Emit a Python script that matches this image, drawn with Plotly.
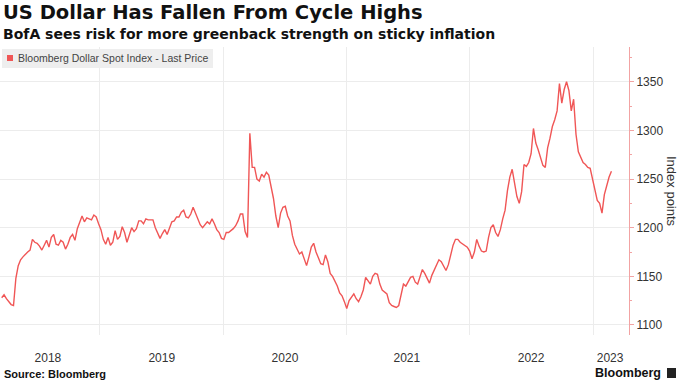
import pandas as pd
import plotly.graph_objects as go

# Weekly readings of the Bloomberg Dollar Spot Index
start_date = "2018-03-16"
values = [
    1128, 1131, 1127, 1124, 1121, 1120, 1148, 1161, 1167, 1170,
    1173, 1175, 1177, 1188, 1185, 1184, 1181, 1177, 1182, 1187,
    1180, 1190, 1193, 1183, 1182, 1187, 1185, 1178, 1183, 1190,
    1193, 1187, 1199, 1205, 1212, 1206, 1210, 1209, 1208, 1213,
    1211, 1204, 1198, 1188, 1183, 1190, 1182, 1185, 1197, 1188,
    1191, 1201, 1195, 1185, 1192, 1200, 1196, 1199, 1207, 1207,
    1204, 1209, 1208, 1208, 1208, 1200, 1194, 1189, 1194, 1198,
    1193, 1199, 1206, 1207, 1211, 1211, 1216, 1218, 1211, 1210,
    1214, 1221, 1215, 1210, 1203, 1200, 1203, 1206, 1204, 1209,
    1204, 1198, 1195, 1189, 1188, 1195, 1195, 1197, 1199, 1202,
    1207, 1214, 1214, 1196, 1190, 1297, 1262, 1262, 1250, 1248,
    1255, 1252, 1257, 1254, 1243, 1230, 1212, 1200, 1215, 1221,
    1222, 1212, 1207, 1192, 1183, 1177, 1173, 1175, 1169, 1161,
    1170, 1180, 1184, 1175, 1169, 1163, 1162, 1172, 1165, 1153,
    1150, 1145, 1140, 1133, 1130, 1124, 1117, 1125, 1129, 1132,
    1127, 1124, 1129, 1136, 1149, 1146, 1142, 1150, 1153, 1152,
    1142, 1136, 1134, 1132, 1123, 1120, 1119, 1118, 1120, 1133,
    1142, 1140, 1144, 1149, 1150, 1144, 1142, 1149, 1157, 1153,
    1148, 1143, 1151, 1156, 1161, 1167, 1165, 1161, 1156, 1162,
    1172, 1182, 1188, 1188, 1185, 1183, 1182, 1180, 1176, 1168,
    1175, 1188, 1181, 1176, 1175, 1176, 1190, 1200, 1203, 1195,
    1191, 1198, 1209, 1218, 1238, 1252, 1260, 1244, 1232, 1225,
    1237, 1265, 1263, 1267, 1276, 1302, 1287, 1280, 1272, 1264,
    1262, 1282, 1292, 1304, 1311, 1320, 1348, 1328, 1342, 1350,
    1341, 1320, 1332, 1296, 1278, 1272, 1267, 1265, 1262, 1261,
    1250, 1237, 1228, 1225, 1215, 1234, 1243, 1252, 1258,
]
dates = pd.date_range(start_date, periods=len(values), freq="7D")

year_labels = ["2018", "2019", "2020", "2021", "2022", "2023"]
year_label_pos = ["2018-07-31", "2019-07-03", "2020-07-02", "2021-06-28",
                  "2022-07-01", "2023-02-20"]
year_starts = ["2019-01-01", "2020-01-01", "2021-01-01", "2022-01-01", "2023-01-01"]
y_ticks = [1100, 1150, 1200, 1250, 1300, 1350]

W, H = 680, 382
L, R, T, B = 0, 51, 47, 47
PW, PH = W - L - R, H - T - B


def px(x):
    return (x - L) / PW


def py(y):
    return (H - B - y) / PH


FONT = "Liberation Sans, Arial, sans-serif"
HEAD_FONT = "DejaVu Sans, Liberation Sans, sans-serif"
LINE_RED = "#f05656"
AXIS_RED = "#f2a3a3"

fig = go.Figure()
fig.add_trace(go.Scatter(
    x=dates, y=values, mode="lines",
    line=dict(color=LINE_RED, width=1.4),
    name="Bloomberg Dollar Spot Index - Last Price",
    hoverinfo="x+y",
))

fig.update_layout(
    width=W, height=H,
    margin=dict(l=L, r=R, t=T, b=B),
    paper_bgcolor="white", plot_bgcolor="white",
    showlegend=False,
    font=dict(family=FONT, color="#333333"),
    xaxis=dict(
        type="date",
        range=["2018-03-11", "2023-04-17"],
        tickmode="array", tickvals=year_label_pos, ticktext=year_labels,
        showgrid=False, ticks="", showline=False, zeroline=False,
        tickfont=dict(size=12, color="#333333", family=FONT),
        ticklabelstandoff=14,
        minor=dict(tickmode="array", tickvals=year_starts, showgrid=True,
                   gridcolor="#ececec", gridwidth=1, ticks=""),
    ),
    yaxis=dict(
        side="right",
        range=[1089.7, 1385.7],
        tickmode="array", tickvals=y_ticks,
        showgrid=True, gridcolor="#ececec", gridwidth=1,
        zeroline=False,
        showline=True, linecolor=AXIS_RED, linewidth=1,
        ticks="outside", ticklen=4, tickcolor=AXIS_RED,
        tickfont=dict(size=12, color="#333333", family=FONT),
        minor=dict(dtick=25, ticks="outside", ticklen=2, tickcolor=AXIS_RED,
                   showgrid=False),
    ),
)

annotations = [
    dict(text="<b>US Dollar Has Fallen From Cycle Highs</b>",
         x=px(1), y=py(13), xanchor="left", yanchor="middle",
         font=dict(size=19.5, color="#111111", family=HEAD_FONT)),
    dict(text="<b>BofA sees risk for more greenback strength on sticky inflation</b>",
         x=px(1), y=py(34), xanchor="left", yanchor="middle",
         font=dict(size=14, color="#111111", family=HEAD_FONT)),
    dict(text="Bloomberg Dollar Spot Index - Last Price",
         x=px(16), y=py(58), xanchor="left", yanchor="middle",
         font=dict(size=10.5, color="#444444", family=FONT)),
    dict(text="Index points", textangle=90,
         x=px(672), y=py(191), xanchor="center", yanchor="middle",
         font=dict(size=13, color="#333333", family=FONT)),
    dict(text="<b>Source: Bloomberg</b>",
         x=px(2), y=py(374), xanchor="left", yanchor="middle",
         font=dict(size=11, color="#111111", family=FONT)),
    dict(text="<b>Bloomberg</b>",
         x=px(663), y=py(373), xanchor="right", yanchor="middle",
         font=dict(size=12.5, color="#111111", family=FONT)),
]
for a in annotations:
    a.update(xref="paper", yref="paper", showarrow=False)
fig.update_layout(annotations=annotations)

shapes = [
    dict(type="rect", xref="paper", yref="paper",
         x0=px(2), x1=px(213), y0=py(68), y1=py(49),
         fillcolor="#eeeeee", line=dict(width=0), layer="above"),
    dict(type="rect", xref="paper", yref="paper",
         x0=px(7), x1=px(13), y0=py(61), y1=py(55),
         fillcolor=LINE_RED, line=dict(width=0), layer="above"),
    dict(type="rect", xref="paper", yref="paper",
         x0=px(667), x1=px(676), y0=py(378), y1=py(368),
         fillcolor="#222222", line=dict(width=0), layer="above"),
]
fig.update_layout(shapes=shapes)

fig.write_html(
    "out.html",
    config={"displayModeBar": False},
    post_script="document.body.style.margin='0px';"
                "document.body.style.overflow='hidden';",
)
